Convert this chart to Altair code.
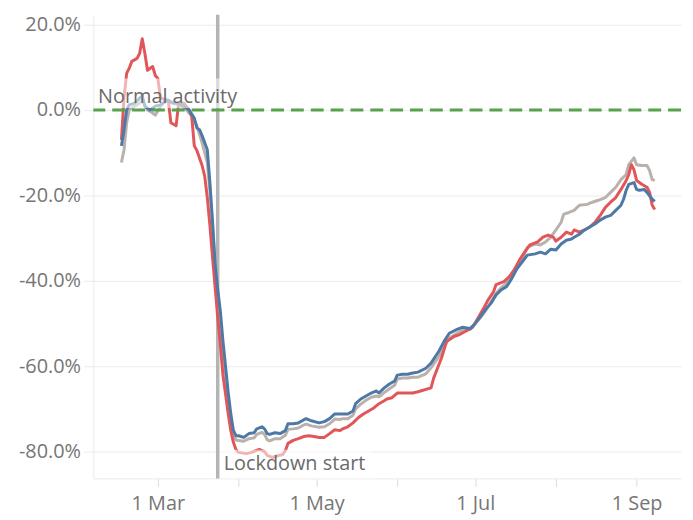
import altair as alt
import pandas as pd

# ---------------- data ----------------
red_dates = [
    "2020-02-16", "2020-02-17", "2020-02-18", "2020-02-19", "2020-02-20", "2020-02-22", "2020-02-23", "2020-02-24", "2020-02-25", "2020-02-26",
    "2020-02-28", "2020-02-29", "2020-03-01", "2020-03-02", "2020-03-05", "2020-03-06", "2020-03-08", "2020-03-09", "2020-03-11", "2020-03-13",
    "2020-03-14", "2020-03-15", "2020-03-16", "2020-03-18", "2020-03-19", "2020-03-20", "2020-03-21", "2020-03-22", "2020-03-23", "2020-03-24",
    "2020-03-25", "2020-03-26", "2020-03-27", "2020-03-28", "2020-03-29", "2020-03-30", "2020-03-31", "2020-04-01", "2020-04-04", "2020-04-06",
    "2020-04-09", "2020-04-11", "2020-04-12", "2020-04-14", "2020-04-16", "2020-04-18", "2020-04-19", "2020-04-20", "2020-04-22", "2020-04-24",
    "2020-04-26", "2020-04-28", "2020-04-30", "2020-05-02", "2020-05-04", "2020-05-06", "2020-05-08", "2020-05-10", "2020-05-11", "2020-05-13",
    "2020-05-15", "2020-05-17", "2020-05-19", "2020-05-21", "2020-05-23", "2020-05-25", "2020-05-27", "2020-05-28", "2020-05-30", "2020-06-01",
    "2020-06-03", "2020-06-05", "2020-06-07", "2020-06-09", "2020-06-14", "2020-06-15", "2020-06-18", "2020-06-20", "2020-06-23", "2020-06-25",
    "2020-06-28", "2020-06-30", "2020-07-02", "2020-07-04", "2020-07-06", "2020-07-08", "2020-07-09", "2020-07-12", "2020-07-14", "2020-07-16",
    "2020-07-18", "2020-07-20", "2020-07-22", "2020-07-25", "2020-07-27", "2020-07-29", "2020-07-31", "2020-08-01", "2020-08-03", "2020-08-05",
    "2020-08-07", "2020-08-08", "2020-08-10", "2020-08-12", "2020-08-14", "2020-08-16", "2020-08-18", "2020-08-20", "2020-08-22", "2020-08-24",
    "2020-08-26", "2020-08-28", "2020-08-29", "2020-08-30", "2020-08-31", "2020-09-01", "2020-09-03", "2020-09-05", "2020-09-06", "2020-09-07",
    "2020-09-08",
]
red_values = [
    -7.0, 3.0, 8.6, 9.8, 11.4, 12.1, 13.3, 16.7, 13.3, 9.3,
    10.2, 8.1, 7.4, 2.8, 2.3, -3.0, -3.7, 1.6, 1.6, 0.0,
    -1.4, -8.4, -9.5, -13.0, -15.5, -20.5, -27.0, -34.5, -41.5, -48.5,
    -55.0, -62.0, -66.5, -71.0, -75.0, -77.8, -79.5, -80.2, -80.5, -80.2,
    -79.5, -80.0, -80.9, -81.4, -81.0, -80.7, -79.8, -78.1, -77.4, -77.0,
    -76.5, -76.3, -76.5, -76.7, -76.7, -75.8, -74.9, -75.1, -74.7, -74.2,
    -73.3, -72.1, -71.2, -70.5, -69.8, -68.8, -68.1, -67.7, -67.4, -66.3,
    -66.3, -66.3, -66.3, -66.0, -65.1, -62.8, -58.1, -54.2, -53.0, -52.6,
    -51.6, -50.9, -48.8, -46.7, -44.4, -42.6, -40.9, -40.2, -39.1, -37.4,
    -35.1, -33.3, -31.6, -30.9, -29.8, -29.3, -29.8, -30.7, -29.8, -28.6,
    -29.1, -28.1, -28.6, -28.1, -27.4, -26.3, -24.7, -22.8, -21.6, -20.5,
    -18.6, -16.5, -15.1, -12.8, -14.0, -16.5, -17.4, -18.1, -19.3, -22.3,
    -23.3,
]

blue_dates = [
    "2020-02-16", "2020-02-17", "2020-02-18", "2020-02-19", "2020-02-21", "2020-02-22", "2020-02-23", "2020-02-24", "2020-02-25", "2020-02-27",
    "2020-02-29", "2020-03-02", "2020-03-04", "2020-03-05", "2020-03-07", "2020-03-09", "2020-03-11", "2020-03-13", "2020-03-15", "2020-03-16",
    "2020-03-17", "2020-03-18", "2020-03-20", "2020-03-21", "2020-03-22", "2020-03-23", "2020-03-24", "2020-03-25", "2020-03-26", "2020-03-27",
    "2020-03-28", "2020-03-29", "2020-03-30", "2020-03-31", "2020-04-01", "2020-04-03", "2020-04-05", "2020-04-07", "2020-04-08", "2020-04-10",
    "2020-04-11", "2020-04-12", "2020-04-13", "2020-04-15", "2020-04-17", "2020-04-19", "2020-04-20", "2020-04-22", "2020-04-24", "2020-04-26",
    "2020-04-27", "2020-04-29", "2020-05-02", "2020-05-04", "2020-05-06", "2020-05-08", "2020-05-10", "2020-05-11", "2020-05-13", "2020-05-15",
    "2020-05-16", "2020-05-18", "2020-05-20", "2020-05-22", "2020-05-24", "2020-05-25", "2020-05-27", "2020-05-29", "2020-05-31", "2020-06-01",
    "2020-06-03", "2020-06-05", "2020-06-07", "2020-06-09", "2020-06-12", "2020-06-14", "2020-06-17", "2020-06-19", "2020-06-21", "2020-06-24",
    "2020-06-26", "2020-06-29", "2020-07-01", "2020-07-03", "2020-07-05", "2020-07-07", "2020-07-09", "2020-07-11", "2020-07-13", "2020-07-15",
    "2020-07-17", "2020-07-19", "2020-07-21", "2020-07-24", "2020-07-26", "2020-07-28", "2020-07-30", "2020-08-01", "2020-08-03", "2020-08-05",
    "2020-08-07", "2020-08-08", "2020-08-10", "2020-08-12", "2020-08-14", "2020-08-16", "2020-08-18", "2020-08-20", "2020-08-22", "2020-08-24",
    "2020-08-26", "2020-08-27", "2020-08-28", "2020-08-29", "2020-08-31", "2020-09-01", "2020-09-02", "2020-09-04", "2020-09-05", "2020-09-07",
    "2020-09-08",
]
blue_values = [
    -8.4, -4.6, 0.0, 1.2, 1.6, 2.1, 2.8, 3.3, 0.9, 0.0,
    0.9, 1.2, 2.1, 2.3, 1.6, 1.6, 0.9, 0.0, -1.9, -4.2,
    -4.6, -6.0, -9.3, -17.0, -26.0, -36.0, -42.0, -47.0, -54.0, -60.0,
    -66.0, -71.0, -75.0, -76.3, -76.3, -76.7, -75.8, -75.6, -74.7, -74.2,
    -74.7, -75.8, -76.0, -75.6, -75.8, -75.1, -73.5, -73.5, -73.3, -72.6,
    -72.3, -72.8, -73.3, -73.0, -72.3, -71.2, -71.2, -71.2, -71.2, -70.5,
    -68.8, -67.7, -67.0, -66.3, -65.8, -66.3, -65.1, -64.2, -63.5, -62.1,
    -61.9, -61.9, -61.6, -61.4, -60.5, -59.3, -56.5, -54.2, -52.3, -51.4,
    -50.9, -51.2, -50.0, -48.4, -46.7, -45.3, -43.3, -42.1, -41.4, -39.5,
    -37.2, -35.6, -34.0, -33.7, -33.3, -33.7, -32.6, -32.8, -31.4, -30.5,
    -30.2, -29.8, -29.1, -28.1, -27.4, -26.7, -25.8, -25.1, -24.7, -23.5,
    -22.3, -20.9, -18.8, -17.4, -17.0, -18.6, -18.8, -18.6, -19.3, -20.9,
    -21.4,
]

grey_dates = [
    "2020-02-16", "2020-02-17", "2020-02-18", "2020-02-19", "2020-02-21", "2020-02-23", "2020-02-24", "2020-02-26", "2020-02-28", "2020-02-29",
    "2020-03-02", "2020-03-04", "2020-03-07", "2020-03-09", "2020-03-12", "2020-03-14", "2020-03-16", "2020-03-18", "2020-03-20", "2020-03-21",
    "2020-03-22", "2020-03-23", "2020-03-24", "2020-03-25", "2020-03-26", "2020-03-27", "2020-03-28", "2020-03-29", "2020-03-30", "2020-03-31",
    "2020-04-01", "2020-04-03", "2020-04-05", "2020-04-07", "2020-04-08", "2020-04-10", "2020-04-11", "2020-04-12", "2020-04-13", "2020-04-15",
    "2020-04-17", "2020-04-19", "2020-04-20", "2020-04-22", "2020-04-24", "2020-04-26", "2020-04-27", "2020-04-29", "2020-05-02", "2020-05-04",
    "2020-05-06", "2020-05-08", "2020-05-10", "2020-05-11", "2020-05-13", "2020-05-15", "2020-05-16", "2020-05-18", "2020-05-20", "2020-05-22",
    "2020-05-24", "2020-05-25", "2020-05-27", "2020-05-29", "2020-05-31", "2020-06-01", "2020-06-03", "2020-06-05", "2020-06-07", "2020-06-09",
    "2020-06-12", "2020-06-14", "2020-06-17", "2020-06-19", "2020-06-21", "2020-06-24", "2020-06-26", "2020-06-29", "2020-07-01", "2020-07-03",
    "2020-07-05", "2020-07-07", "2020-07-09", "2020-07-11", "2020-07-13", "2020-07-15", "2020-07-17", "2020-07-19", "2020-07-21", "2020-07-24",
    "2020-07-26", "2020-07-28", "2020-07-30", "2020-08-01", "2020-08-03", "2020-08-04", "2020-08-06", "2020-08-08", "2020-08-10", "2020-08-13",
    "2020-08-15", "2020-08-17", "2020-08-20", "2020-08-22", "2020-08-24", "2020-08-26", "2020-08-28", "2020-08-29", "2020-08-31", "2020-09-01",
    "2020-09-03", "2020-09-05", "2020-09-06", "2020-09-07", "2020-09-08",
]
grey_values = [
    -12.3, -9.3, -3.0, 0.0, 0.9, 1.6, 2.3, 0.0, -0.7, -1.2,
    0.9, 2.1, 1.6, 1.2, 0.0, -1.4, -3.7, -7.7, -12.3, -19.0,
    -27.0, -37.0, -44.0, -50.0, -56.0, -62.0, -68.0, -72.5, -76.0, -77.3,
    -77.4, -77.6, -77.0, -76.8, -76.0, -75.5, -76.0, -77.2, -77.5, -77.0,
    -77.0, -76.2, -74.8, -74.7, -74.5, -73.8, -73.6, -74.0, -74.3, -74.2,
    -73.5, -72.4, -72.5, -72.3, -72.3, -71.5, -70.0, -68.9, -68.0, -67.3,
    -67.0, -67.2, -66.2, -65.3, -64.5, -63.0, -62.8, -62.8, -62.6, -62.6,
    -61.8, -60.4, -57.8, -55.3, -53.4, -52.3, -51.6, -51.4, -50.0, -48.6,
    -47.0, -45.0, -43.0, -41.6, -40.6, -38.8, -36.5, -34.8, -32.2, -31.4,
    -31.6, -30.9, -29.8, -28.1, -26.3, -24.4, -24.0, -23.5, -22.3, -22.1,
    -21.6, -21.2, -20.5, -19.3, -18.1, -16.3, -15.1, -12.8, -11.2, -12.8,
    -13.0, -13.0, -14.2, -16.3, -16.5,
]

series_names = ["Grey", "Red", "Blue"]
series_colors = ["#bab0ac", "#e15759", "#4e79a7"]

y_ticks = [-80, -60, -40, -20, 0, 20]
lockdown_date = "2020-03-24"
normal_label = "Normal activity"
lockdown_label = "Lockdown start"

# annotation label boxes (semi-transparent white backgrounds)
box_start = ["2020-02-06", "2020-03-25"]
box_end = ["2020-04-03", "2020-05-22"]
box_low = [0.5, -86.3]
box_high = [7.4, -79.6]

# ---------------- build ----------------
assert len(red_dates) == len(red_values)
assert len(blue_dates) == len(blue_values)
assert len(grey_dates) == len(grey_values)

frames = {
    "Grey": pd.DataFrame({"date": pd.to_datetime(grey_dates), "value": grey_values}),
    "Red": pd.DataFrame({"date": pd.to_datetime(red_dates), "value": red_values}),
    "Blue": pd.DataFrame({"date": pd.to_datetime(blue_dates), "value": blue_values}),
}

FONT = "Open Sans"
LABEL_COLOR = "#767676"
GRID_COLOR = "#ebebeb"

x_scale = alt.Scale(domain=[alt.DateTime(year=2020, month=2, date=5, hours=5),
                            alt.DateTime(year=2020, month=9, date=18, hours=2)])
y_scale = alt.Scale(domain=[-86.3, 22.3], nice=False, zero=False)

month_ticks = [alt.DateTime(year=2020, month=m, date=1) for m in range(3, 10)]

x_axis = alt.Axis(
    title=None, values=month_ticks, grid=False,
    labelExpr="month(datum.value) % 2 == 0 ? timeFormat(datum.value, '%-d %b') : ''",
    labelFont=FONT, labelFontSize=20, labelColor=LABEL_COLOR, labelPadding=7,
    tickColor="#dcdcdc", tickSize=8, domainColor=GRID_COLOR,
)
y_axis = alt.Axis(
    title=None, values=y_ticks, grid=True, gridColor=GRID_COLOR,
    labelExpr="(datum.value < 0 ? '-' : '') + format(abs(datum.value), '.1f') + '%'",
    labelFont=FONT, labelFontSize=20, labelColor=LABEL_COLOR, labelPadding=3,
    tickColor=GRID_COLOR, tickSize=10, domainColor=GRID_COLOR,
)


def X(field):
    return alt.X(field, scale=x_scale, axis=x_axis)


def Y(field):
    return alt.Y(field, scale=y_scale, axis=y_axis)


layers = []
for name, color in zip(series_names, series_colors):
    layers.append(
        alt.Chart(frames[name]).mark_line(color=color, strokeWidth=3, strokeJoin="round")
        .encode(x=X("date:T"), y=Y("value:Q"))
    )

rule_df = pd.DataFrame({"date": pd.to_datetime([lockdown_date])})
lockdown_rule = alt.Chart(rule_df).mark_rule(color="#b4b4b4", strokeWidth=3.5).encode(
    x=X("date:T")
)

zero_df = pd.DataFrame({"value": [0]})
zero_rule = alt.Chart(zero_df).mark_rule(color="#59a14f", strokeWidth=3, strokeDash=[13, 7]).encode(
    y=Y("value:Q")
)

box_df = pd.DataFrame({
    "start": pd.to_datetime(box_start), "end": pd.to_datetime(box_end),
    "low": box_low, "high": box_high,
})
boxes = alt.Chart(box_df).mark_rect(color="white", opacity=0.55).encode(
    x=X("start:T"), x2="end:T",
    y=Y("low:Q"), y2="high:Q",
)

label_df = pd.DataFrame({
    "date": pd.to_datetime(["2020-02-07", lockdown_date]),
    "value": [1.6, -84.4],
    "text": [normal_label, lockdown_label],
})
normal_text = alt.Chart(label_df.iloc[[0]]).mark_text(
    align="left", baseline="alphabetic", font=FONT, fontSize=20, color="#6a6a6a"
).encode(x=X("date:T"), y=Y("value:Q"), text="text:N")
lock_text = alt.Chart(label_df.iloc[[1]]).mark_text(
    align="left", baseline="alphabetic", font=FONT, fontSize=20, color="#6a6a6a", dx=6
).encode(x=X("date:T"), y=Y("value:Q"), text="text:N")

chart = alt.layer(
    lockdown_rule, *layers, zero_rule, boxes, normal_text, lock_text
).properties(
    width=592, height=467,
    padding={"left": 10, "top": 3, "right": 2, "bottom": 2},
).configure(font=FONT).configure_view(stroke=None)

chart.save("out.html", embed_options={"renderer": "svg", "actions": False})
